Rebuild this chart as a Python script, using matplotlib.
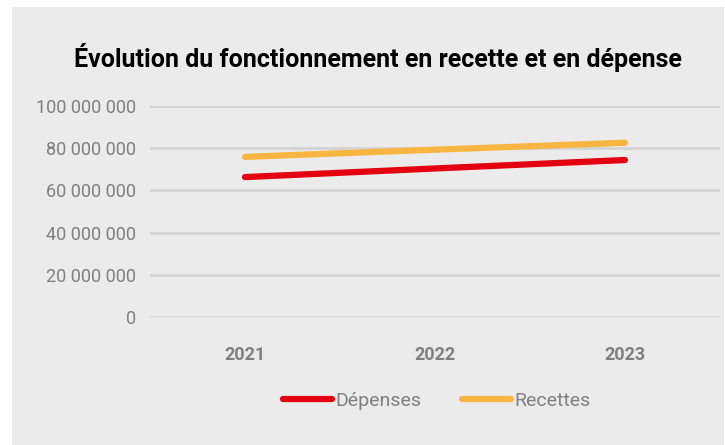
import matplotlib.pyplot as plt
from matplotlib.patches import Rectangle
from matplotlib.ticker import FuncFormatter

years = ['2021', '2022', '2023']
depenses = [66_300_000, 70_400_000, 74_400_000]
recettes = [75_900_000, 79_300_000, 82_600_000]
y_ticks = [0, 20_000_000, 40_000_000, 60_000_000, 80_000_000, 100_000_000]

W, H = 725, 445
bg = '#ebebeb'
grey_txt = '#7f7f7f'

fig = plt.figure(figsize=(W / 100, H / 100), dpi=100)
fig.patch.set_facecolor('white')
fig.patches.append(Rectangle((12 / W, 0), (724 - 12) / W, (445 - 7) / H,
                             transform=fig.transFigure, facecolor=bg,
                             edgecolor='none', zorder=-10))

# plot area: x 150..720, y 106..317 (pixels)
ax = fig.add_axes([150 / W, 1 - 317 / H, 570 / W, 211 / H])
ax.set_zorder(2)
ax.patch.set_alpha(0)

x = range(len(years))
ax.plot(x, depenses, color='#e3000f', lw=4.5, solid_capstyle='round', label='Dépenses', zorder=3)
ax.plot(x, recettes, color='#f9b542', lw=4.5, solid_capstyle='round', label='Recettes', zorder=3)

ax.set_xlim(-0.5, len(years) - 0.5)
ax.set_ylim(0, 100_000_000)
ax.set_yticks(y_ticks)
ax.yaxis.set_major_formatter(FuncFormatter(lambda v, p: f'{int(v):,}'.replace(',', ' ')))
ax.set_xticks(list(x))
ax.set_xticklabels(years, fontweight='bold')
ax.grid(axis='y', color='#d3d3d3', lw=2)
ax.set_axisbelow(True)
for s in ax.spines.values():
    s.set_visible(False)
ax.tick_params(length=0)
ax.tick_params(axis='y', labelsize=13, labelcolor=grey_txt, pad=10)
ax.tick_params(axis='x', labelsize=13, labelcolor=grey_txt, pad=21)
for lab in ax.get_xticklabels() + ax.get_yticklabels():
    lab.set_fontfamily('Roboto')

fig.text(378 / W, 1 - 57 / H, 'Évolution du fonctionnement en recette et en dépense',
         ha='center', va='center', fontsize=18, fontweight='bold',
         family='Roboto', color='black')

leg = fig.legend(loc='center', bbox_to_anchor=(437 / W, 1 - 401 / H), ncol=2,
                 frameon=False, handlelength=2.5, handletextpad=0.2,
                 columnspacing=2.1, prop={'family': 'Roboto', 'size': 14})
for t in leg.get_texts():
    t.set_color(grey_txt)

fig.savefig('out.png', dpi=100)
